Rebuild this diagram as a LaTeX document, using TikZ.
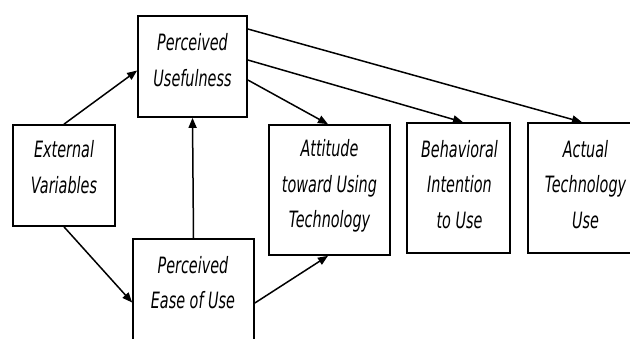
\documentclass[tikz,border=0pt]{standalone}
\usepackage{fontspec}
\setmainfont{DejaVu Sans}[FakeStretch=0.64]
\usetikzlibrary{arrows.meta,calc}

\tikzset{
  box/.style={draw=black, line width=1.7pt, fill=white, inner sep=0pt},
  lbl/.style={align=center, inner sep=0pt, font=\fontsize{22.5}{35.5}\selectfont\itshape, text=black},
  link/.style={draw=black, line width=1.5pt, -{Triangle[length=10pt,width=8pt]}}
}

\begin{document}
\begin{tikzpicture}[x=1pt, y=-1pt]
  \clip (0,0) rectangle (630,338);
  \fill[white] (0,0) rectangle (630,338);

  % boxes
  \node[box, minimum width=102pt, minimum height=101pt] (ev)   at (64,175.5)   {};
  \node[box, minimum width=109pt, minimum height=101pt] (pu)   at (192.5,66.5) {};
  \node[box, minimum width=121pt, minimum height=121pt] (peou) at (193.5,299.5) {};
  \node[box, minimum width=121pt, minimum height=130pt] (att)  at (329.5,190)  {};
  \node[box, minimum width=103pt, minimum height=130pt] (beh)  at (458.5,188)  {};
  \node[box, minimum width=117pt, minimum height=130pt] (act)  at (586.5,188)  {};

  % labels
  \node[lbl] (ev-t)   at (64,167)    {External\\Variables};
  \node[lbl] (pu-t)   at (192.5,60)  {Perceived\\Usefulness};
  \node[lbl] (peou-t) at (193,282.5) {Perceived\\Ease of Use};
  \node[lbl] (att-t)  at (329.5,186) {Attitude\\toward Using\\Technology};
  \node[lbl] (beh-t)  at (459.5,184.5) {Behavioral\\Intention\\to Use};
  \node[lbl] (act-t)  at (585.5,184.5) {Actual\\Technology\\Use};

  % connectors
  \draw[link] (ev.north) -- ([yshift=-4pt]pu.west);
  \draw[link] (ev.south) -- ([yshift=-3pt]peou.west);
  \draw[link] (peou.north) -- (pu.south);
  \draw[link] ([yshift=-3.5pt]peou.east) -- ([xshift=-1.5pt]att.south);
  \draw[link] ([yshift=-13.5pt]pu.east) -- ([xshift=-1.5pt]att.north);
  \draw[link] ([yshift=6.5pt]pu.east) -- ([xshift=4.5pt]beh.north);
  \draw[link] ([yshift=37.5pt]pu.east) -- ([xshift=-4.5pt]act.north);
\end{tikzpicture}
\end{document}
